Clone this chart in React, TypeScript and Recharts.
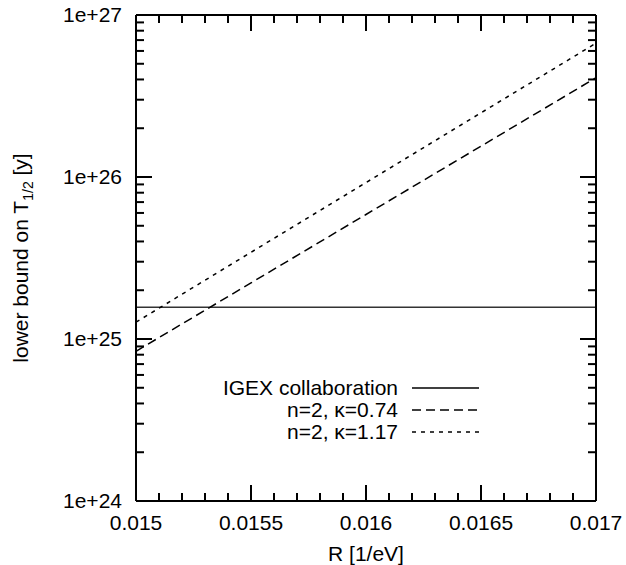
import { ComposedChart, Line, XAxis, YAxis, Legend } from "recharts";

const rValues = [0.015, 0.0155, 0.016, 0.0165, 0.017];
const igexBound = [1.57e25, 1.57e25, 1.57e25, 1.57e25, 1.57e25];
const kappa074 = [8.4e24, 2.22e25, 5.87e25, 1.55e26, 4.1e26];
const kappa117 = [1.27e25, 3.43e25, 9.24e25, 2.49e26, 6.7e26];

const xMajorTicks = [0.015, 0.0155, 0.016, 0.0165, 0.017];
const yMajorTicks = [1e24, 1e25, 1e26, 1e27];
const yMinorMultiples = [2, 3, 4, 5, 6, 7, 8, 9];

const seriesNames = ["IGEX collaboration", "n=2, \u03ba=0.74", "n=2, \u03ba=1.17"];
const seriesDash = ["", "9 5", "4 5"];

const FONT = "'Liberation Sans', Arial, Helvetica, sans-serif";
const FS = 21;
const MAJOR = 16;
const MINOR = 8;

const data = rValues.map((r, i) => ({
  r,
  igex: igexBound[i],
  k074: kappa074[i],
  k117: kappa117[i],
}));

// minor ticks: 4 between each pair of labelled x ticks, 8 per decade on y
const xTicks: number[] = [];
xMajorTicks.forEach((a, i) => {
  xTicks.push(a);
  const b = xMajorTicks[i + 1];
  if (b === undefined) return;
  for (let j = 1; j < 5; j++) xTicks.push(+(a + ((b - a) * j) / 5).toFixed(6));
});
const yTicks: number[] = [];
yMajorTicks.forEach((d, i) => {
  yTicks.push(d);
  if (i < yMajorTicks.length - 1) yMinorMultiples.forEach((m) => yTicks.push(m * d));
});

const isXMajor = (v: number) => xMajorTicks.some((m) => Math.abs(m - v) < 1e-9);
const isYMajor = (v: number) => yMajorTicks.some((m) => Math.abs(m / v - 1) < 1e-9);

const BottomTick = (p: any) => {
  const { x, y, payload } = p;
  const major = isXMajor(payload.value);
  return (
    <g>
      <line x1={x} y1={y} x2={x} y2={y - (major ? MAJOR : MINOR)} stroke="#000" strokeWidth={2} />
      {major && (
        <text x={x} y={y + 29} textAnchor="middle" fontSize={FS} fontFamily={FONT} fill="#000">
          {String(payload.value)}
        </text>
      )}
    </g>
  );
};

const TopTick = (p: any) => {
  const { x, y, payload } = p;
  const major = isXMajor(payload.value);
  return <line x1={x} y1={y} x2={x} y2={y + (major ? MAJOR : MINOR)} stroke="#000" strokeWidth={2} />;
};

const LeftTick = (p: any) => {
  const { x, y, payload } = p;
  const major = isYMajor(payload.value);
  return (
    <g>
      <line x1={x} y1={y} x2={x + (major ? MAJOR : MINOR)} y2={y} stroke="#000" strokeWidth={2} />
      {major && (
        <text x={x - 14} y={y} dy="0.35em" textAnchor="end" fontSize={FS} fontFamily={FONT} fill="#000">
          {Number(payload.value).toExponential(0)}
        </text>
      )}
    </g>
  );
};

const RightTick = (p: any) => {
  const { x, y, payload } = p;
  const major = isYMajor(payload.value);
  return <line x1={x} y1={y} x2={x - (major ? MAJOR : MINOR)} y2={y} stroke="#000" strokeWidth={2} />;
};

const XTitle = (p: any) => {
  const vb = p.viewBox || {};
  return (
    <text x={vb.x + vb.width / 2} y={vb.y + 60} textAnchor="middle" fontSize={FS} fontFamily={FONT} fill="#000">
      R [1/eV]
    </text>
  );
};

const YTitle = (p: any) => {
  const vb = p.viewBox || {};
  const cx = 28;
  const cy = vb.y + vb.height / 2;
  return (
    <text
      x={cx}
      y={cy}
      transform={`rotate(-90 ${cx} ${cy})`}
      textAnchor="middle"
      fontSize={FS}
      fontFamily={FONT}
      fill="#000"
    >
      lower bound on T
      <tspan dy={5} fontSize={14}>1/2</tspan>
      <tspan dy={-5}> [y]</tspan>
    </text>
  );
};

const KeyBox = () => (
  <svg width={626} height={80} style={{ display: "block" }}>
    {seriesNames.map((name, i) => {
      const cy = 18 + i * 22;
      return (
        <g key={name}>
          <text x={398} y={cy + 7} textAnchor="end" fontSize={FS} fontFamily={FONT} fill="#000">
            {name}
          </text>
          <line
            x1={412}
            y1={cy}
            x2={479}
            y2={cy}
            stroke="#000"
            strokeWidth={1.5}
            strokeDasharray={seriesDash[i] || undefined}
          />
        </g>
      );
    })}
  </svg>
);

const axisLine = { stroke: "#000", strokeWidth: 2 };

export default function App() {
  return (
    <div style={{ position: "absolute", left: 0, top: 0, width: 626, height: 565, background: "#fff", fontFamily: FONT }}>
      <ComposedChart width={626} height={565} data={data} margin={{ top: 0, right: 0, bottom: 0, left: 0 }}>
        <XAxis
          xAxisId="b"
          dataKey="r"
          type="number"
          domain={[0.015, 0.017]}
          ticks={xTicks}
          interval={0}
          allowDataOverflow
          height={64}
          tickSize={0}
          tickMargin={0}
          tickLine={false}
          axisLine={axisLine}
          tick={<BottomTick />}
          label={{ content: (p: any) => <XTitle {...p} /> }}
        />
        <XAxis
          xAxisId="t"
          orientation="top"
          dataKey="r"
          type="number"
          domain={[0.015, 0.017]}
          ticks={xTicks}
          interval={0}
          allowDataOverflow
          height={15}
          tickSize={0}
          tickMargin={0}
          tickLine={false}
          axisLine={axisLine}
          tick={<TopTick />}
        />
        <YAxis
          yAxisId="l"
          scale="log"
          type="number"
          domain={[1e24, 1e27]}
          ticks={yTicks}
          interval={0}
          allowDataOverflow
          width={136}
          tickSize={0}
          tickMargin={0}
          tickLine={false}
          axisLine={axisLine}
          tick={<LeftTick />}
          label={{ content: (p: any) => <YTitle {...p} /> }}
        />
        <YAxis
          yAxisId="r"
          orientation="right"
          scale="log"
          type="number"
          domain={[1e24, 1e27]}
          ticks={yTicks}
          interval={0}
          allowDataOverflow
          width={30}
          tickSize={0}
          tickMargin={0}
          tickLine={false}
          axisLine={axisLine}
          tick={<RightTick />}
        />
        <Legend
          layout="vertical"
          align="center"
          verticalAlign="middle"
          wrapperStyle={{ left: 0, top: 370, width: 626 }}
          content={() => <KeyBox />}
        />
        <Line xAxisId="b" yAxisId="l" name={seriesNames[0]} dataKey="igex" stroke="#333" strokeWidth={1.5} dot={false} isAnimationActive={false} type="linear" />
        <Line xAxisId="b" yAxisId="l" name={seriesNames[1]} dataKey="k074" stroke="#000" strokeWidth={1.5} strokeDasharray={seriesDash[1]} dot={false} isAnimationActive={false} type="linear" />
        <Line xAxisId="b" yAxisId="l" name={seriesNames[2]} dataKey="k117" stroke="#000" strokeWidth={1.5} strokeDasharray={seriesDash[2]} dot={false} isAnimationActive={false} type="linear" />
      </ComposedChart>
    </div>
  );
}
